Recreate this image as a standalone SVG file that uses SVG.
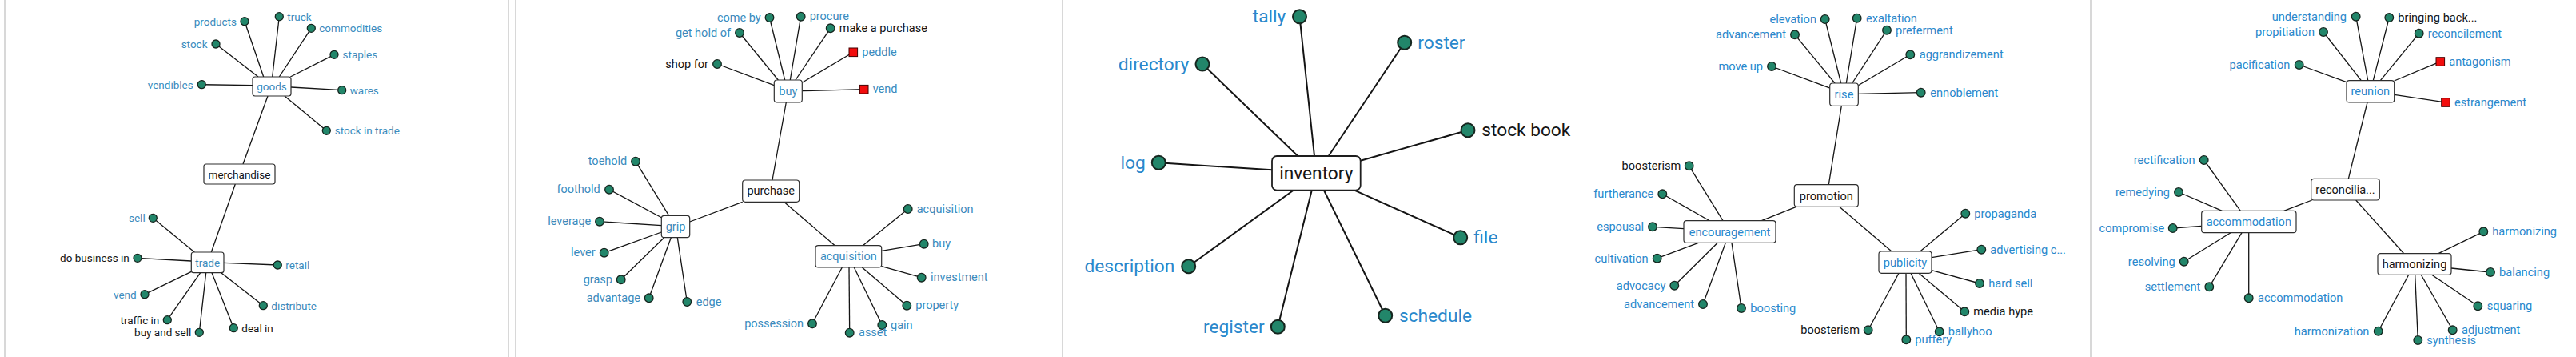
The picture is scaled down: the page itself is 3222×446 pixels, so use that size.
<svg xmlns="http://www.w3.org/2000/svg" width="3222" height="446" viewBox="0 0 3222 446">
<style>
.bg{fill:#fff}
.sep{stroke:#d8d8d8;stroke-width:2}
.e{stroke:#141414;stroke-width:1.3;fill:none}
.e3{stroke:#141414;stroke-width:2;fill:none}
.box{fill:#fff;stroke:#2e2e2e;stroke-width:1.2}
.box3{fill:#fff;stroke:#1e1e1e;stroke-width:1.8}
.d{fill:#22866a;stroke:#16261f;stroke-width:1.3}
.d3{fill:#22866a;stroke:#16261f;stroke-width:2}
.sq{fill:#f20d0d;stroke:#400;stroke-width:1}
text{font-family:Roboto,"Liberation Sans",sans-serif;dominant-baseline:central}
.m{text-anchor:middle}
.r{text-anchor:end}
.ba{fill:#3b8bbd}
.bb{fill:#2a88cc}
.k{fill:#151515}
.f1{font-size:13.5px}
.f2{font-size:14.5px}
.f3{font-size:22.7px}
.f4{font-size:14.6px}
</style>
<rect class="bg" x="0" y="0" width="3222" height="446"/>
<g id="separators">
<line class="sep" x1="6" y1="0" x2="6" y2="446"/>
<line class="sep" x1="636" y1="0" x2="636" y2="446"/>
<line class="sep" x1="645" y1="0" x2="645" y2="446"/>
<line class="sep" x1="1329" y1="0" x2="1329" y2="446"/>
<line class="sep" x1="2615" y1="0" x2="2615" y2="446"/>
</g>
<g id="connectors">
<!-- panel 1 -->
<line class="e" x1="306" y1="26.7" x2="329.7" y2="96"/>
<line class="e" x1="270" y1="55" x2="323" y2="96"/>
<line class="e" x1="252.3" y1="105.7" x2="316" y2="106.7"/>
<line class="e" x1="349.3" y1="20.7" x2="340.7" y2="96"/>
<line class="e" x1="389.3" y1="35.3" x2="349.3" y2="96"/>
<line class="e" x1="418" y1="68.3" x2="363.3" y2="96"/>
<line class="e" x1="427.7" y1="112.7" x2="364" y2="109"/>
<line class="e" x1="408.3" y1="163.3" x2="356" y2="120"/>
<line class="e" x1="335" y1="120" x2="304" y2="205"/>
<line class="e" x1="294.3" y1="230" x2="264.3" y2="315"/>
<line class="e" x1="191.3" y1="272.3" x2="243.3" y2="315"/>
<line class="e" x1="172" y1="322.3" x2="239.3" y2="326"/>
<line class="e" x1="181" y1="367.7" x2="239.3" y2="339.3"/>
<line class="e" x1="209.3" y1="399.7" x2="250.7" y2="340.7"/>
<line class="e" x1="249.3" y1="415.3" x2="257.7" y2="340.7"/>
<line class="e" x1="292.3" y1="409.7" x2="265" y2="340.7"/>
<line class="e" x1="329.3" y1="381.7" x2="276.7" y2="340.7"/>
<line class="e" x1="347.3" y1="331" x2="280" y2="328.3"/>
<!-- panel 2 -->
<line class="e" x1="962.5" y1="22" x2="981.7" y2="100"/>
<line class="e" x1="925" y1="41" x2="973.3" y2="100"/>
<line class="e" x1="897" y1="80" x2="968.3" y2="106.7"/>
<line class="e" x1="1001.7" y1="20.7" x2="988.3" y2="100"/>
<line class="e" x1="1038.7" y1="35.3" x2="995" y2="100"/>
<line class="e" x1="1067.3" y1="65.3" x2="1003.3" y2="103.3"/>
<line class="e" x1="1080.7" y1="111.7" x2="1003.3" y2="113.7"/>
<line class="e" x1="983.3" y1="128" x2="966" y2="225"/>
<line class="e" x1="928.7" y1="252.3" x2="862.7" y2="277"/>
<line class="e" x1="980.7" y1="252.3" x2="1044.3" y2="306.7"/>
<line class="e" x1="795" y1="201.7" x2="836.7" y2="269.3"/>
<line class="e" x1="762" y1="236.7" x2="827.3" y2="271.7"/>
<line class="e" x1="750" y1="276.7" x2="827.3" y2="281.7"/>
<line class="e" x1="755.7" y1="315.7" x2="827.3" y2="290"/>
<line class="e" x1="776.7" y1="349.3" x2="830.7" y2="296.7"/>
<line class="e" x1="811.7" y1="372.3" x2="839.3" y2="296.7"/>
<line class="e" x1="859.3" y1="377" x2="847.3" y2="296.7"/>
<line class="e" x1="1135.7" y1="261" x2="1079.3" y2="306.7"/>
<line class="e" x1="1155.7" y1="304.7" x2="1102.7" y2="313.3"/>
<line class="e" x1="1152.7" y1="346.7" x2="1102.7" y2="332.7"/>
<line class="e" x1="1134.3" y1="381.7" x2="1078.3" y2="334"/>
<line class="e" x1="1103.3" y1="406" x2="1068.3" y2="334"/>
<line class="e" x1="1062.7" y1="415.7" x2="1062" y2="334"/>
<line class="e" x1="1016" y1="404.3" x2="1053.3" y2="334"/>
<!-- panel 3 -->
<line class="e3" x1="1625.5" y1="20.7" x2="1644" y2="195"/>
<line class="e3" x1="1504" y1="80" x2="1623.3" y2="195"/>
<line class="e3" x1="1449.3" y1="203.3" x2="1591" y2="212.3"/>
<line class="e3" x1="1486.7" y1="332.7" x2="1617.7" y2="237.7"/>
<line class="e3" x1="1598.3" y1="408.3" x2="1640.7" y2="237.7"/>
<line class="e3" x1="1756.7" y1="53.3" x2="1661.7" y2="195"/>
<line class="e3" x1="1836" y1="162.7" x2="1701.7" y2="200.7"/>
<line class="e3" x1="1826.7" y1="296.7" x2="1694" y2="237.7"/>
<line class="e3" x1="1732.7" y1="394.3" x2="1656" y2="237.7"/>
<!-- panel 4 -->
<line class="e" x1="2282.7" y1="24" x2="2302.7" y2="104"/>
<line class="e" x1="2245" y1="43.3" x2="2295" y2="104"/>
<line class="e" x1="2216" y1="83" x2="2288.7" y2="110"/>
<line class="e" x1="2322.7" y1="22.7" x2="2309.3" y2="104"/>
<line class="e" x1="2360" y1="37.7" x2="2316.7" y2="104"/>
<line class="e" x1="2389.3" y1="68.3" x2="2324.3" y2="106.7"/>
<line class="e" x1="2402.7" y1="115.7" x2="2324.3" y2="117.3"/>
<line class="e" x1="2303.3" y1="132.3" x2="2287.3" y2="230.7"/>
<line class="e" x1="2246.7" y1="258.3" x2="2203.3" y2="275.7"/>
<line class="e" x1="2300.7" y1="258.3" x2="2366" y2="314"/>
<line class="e" x1="2112.7" y1="207.3" x2="2155" y2="275.7"/>
<line class="e" x1="2079.3" y1="242.3" x2="2138.3" y2="275.7"/>
<line class="e" x1="2067" y1="283.3" x2="2106" y2="285.7"/>
<line class="e" x1="2072.7" y1="322.7" x2="2124.3" y2="303.3"/>
<line class="e" x1="2094.3" y1="356.7" x2="2148.3" y2="303.3"/>
<line class="e" x1="2130" y1="380" x2="2158.3" y2="303.3"/>
<line class="e" x1="2178" y1="385" x2="2166" y2="303.3"/>
<line class="e" x1="2458.3" y1="266.7" x2="2401.7" y2="314"/>
<line class="e" x1="2478.3" y1="311.7" x2="2416" y2="321.7"/>
<line class="e" x1="2476" y1="354" x2="2416" y2="337.7"/>
<line class="e" x1="2457.3" y1="389.3" x2="2400" y2="341.3"/>
<line class="e" x1="2425.7" y1="414.3" x2="2390" y2="341.3"/>
<line class="e" x1="2384.3" y1="424.3" x2="2384" y2="341.3"/>
<line class="e" x1="2336.7" y1="412.3" x2="2375" y2="341.3"/>
<!-- panel 5 -->
<line class="e" x1="2946.7" y1="20.7" x2="2961.7" y2="100.7"/>
<line class="e" x1="2906" y1="40" x2="2953.3" y2="100.7"/>
<line class="e" x1="2875.7" y1="81" x2="2935" y2="102.7"/>
<line class="e" x1="2988.3" y1="22" x2="2968.3" y2="100.7"/>
<line class="e" x1="3025.7" y1="41.7" x2="2977.3" y2="100.7"/>
<line class="e" x1="3052.3" y1="77" x2="2994.7" y2="101"/>
<line class="e" x1="3059" y1="128" x2="2994.7" y2="118.3"/>
<line class="e" x1="2961" y1="128" x2="2937.3" y2="223.3"/>
<line class="e" x1="2891.7" y1="250" x2="2856.7" y2="263.3"/>
<line class="e" x1="2946.7" y1="250" x2="3006.7" y2="316.7"/>
<line class="e" x1="2756.7" y1="200" x2="2802.3" y2="263.3"/>
<line class="e" x1="2725" y1="240" x2="2779.3" y2="263.3"/>
<line class="e" x1="2717.7" y1="285" x2="2753.7" y2="282.3"/>
<line class="e" x1="2731.7" y1="326.7" x2="2790" y2="290.7"/>
<line class="e" x1="2763.3" y1="358.3" x2="2804" y2="290.7"/>
<line class="e" x1="2812.7" y1="372.3" x2="2812.7" y2="290.7"/>
<line class="e" x1="2974.7" y1="413.7" x2="3012.7" y2="343.3"/>
<line class="e" x1="3106.3" y1="289.3" x2="3050" y2="316.7"/>
<line class="e" x1="3115" y1="340" x2="3066" y2="335"/>
<line class="e" x1="3099.3" y1="382.3" x2="3041.7" y2="343.3"/>
<line class="e" x1="3067.7" y1="412.3" x2="3028.3" y2="343.3"/>
<line class="e" x1="3024.3" y1="425" x2="3020.7" y2="343.3"/>
</g>
<!-- ===== Panel 1 ===== -->
<g id="n-goods"><rect class="box" x="316" y="96" width="48" height="24" rx="3"/><text class="m ba f1" x="340" y="108">goods</text></g>
<g id="n-merchandise"><rect class="box" x="255" y="205" width="89" height="25" rx="3"/><text class="m k f1" x="299.5" y="217.5">merchandise</text></g>
<g id="n-trade"><rect class="box" x="239.3" y="315" width="40.7" height="25.7" rx="3"/><text class="m ba f1" x="259.7" y="327.8">trade</text></g>
<g id="l-products"><circle class="d" cx="306" cy="26.7" r="5"/><text class="r ba f1" x="296" y="26.7">products</text></g>
<g id="l-stock"><circle class="d" cx="270" cy="55" r="5"/><text class="r ba f1" x="259.5" y="55">stock</text></g>
<g id="l-vendibles"><circle class="d" cx="252.3" cy="105.7" r="5"/><text class="r ba f1" x="241.7" y="105.7">vendibles</text></g>
<g id="l-truck"><circle class="d" cx="349.3" cy="20.7" r="5"/><text class="ba f1" x="359.3" y="20.7">truck</text></g>
<g id="l-commodities"><circle class="d" cx="389.3" cy="35.3" r="5"/><text class="ba f1" x="399.3" y="35.3">commodities</text></g>
<g id="l-staples"><circle class="d" cx="418" cy="68.3" r="5"/><text class="ba f1" x="428.5" y="68.3">staples</text></g>
<g id="l-wares"><circle class="d" cx="427.7" cy="112.7" r="5"/><text class="ba f1" x="437.7" y="112.7">wares</text></g>
<g id="l-stock-in-trade"><circle class="d" cx="408.3" cy="163.3" r="5"/><text class="ba f1" x="418.7" y="163.3">stock in trade</text></g>
<g id="l-sell"><circle class="d" cx="191.3" cy="272.3" r="5"/><text class="r ba f1" x="181.7" y="272.3">sell</text></g>
<g id="l-do-business-in"><circle class="d" cx="172" cy="322.3" r="5"/><text class="r k f1" x="161.7" y="322.3">do business in</text></g>
<g id="l-vend1"><circle class="d" cx="181" cy="367.7" r="5"/><text class="r ba f1" x="170.7" y="367.7">vend</text></g>
<g id="l-traffic-in"><circle class="d" cx="209.3" cy="399.7" r="5"/><text class="r k f1" x="199.3" y="399.7">traffic in</text></g>
<g id="l-buy-and-sell"><circle class="d" cx="249.3" cy="415.3" r="5"/><text class="r k f1" x="239.3" y="415.3">buy and sell</text></g>
<g id="l-deal-in"><circle class="d" cx="292.3" cy="409.7" r="5"/><text class="k f1" x="302.3" y="409.7">deal in</text></g>
<g id="l-distribute"><circle class="d" cx="329.3" cy="381.7" r="5"/><text class="ba f1" x="339.3" y="381.7">distribute</text></g>
<g id="l-retail"><circle class="d" cx="347.3" cy="331" r="5"/><text class="ba f1" x="357.3" y="331">retail</text></g>
<!-- ===== Panel 2 ===== -->
<g id="n-buy"><rect class="box" x="968.3" y="100" width="35" height="28" rx="3.5"/><text class="m ba f2" x="985.8" y="114">buy</text></g>
<g id="n-purchase"><rect class="box" x="928.7" y="225" width="71" height="27.3" rx="3.5"/><text class="m k f2" x="964.2" y="238.7">purchase</text></g>
<g id="n-grip"><rect class="box" x="827.3" y="269.3" width="35.4" height="27.4" rx="3.5"/><text class="m ba f2" x="845" y="283">grip</text></g>
<g id="n-acquisition"><rect class="box" x="1020" y="306.7" width="82.7" height="27.3" rx="3.5"/><text class="m ba f2" x="1061.3" y="320.3">acquisition</text></g>
<g id="l-come-by"><circle class="d" cx="962.5" cy="22" r="5.3"/><text class="r ba f2" x="951.7" y="22">come by</text></g>
<g id="l-get-hold-of"><circle class="d" cx="925" cy="41" r="5.3"/><text class="r ba f2" x="914" y="41">get hold of</text></g>
<g id="l-shop-for"><circle class="d" cx="897" cy="80" r="5.3"/><text class="r k f2" x="886" y="80">shop for</text></g>
<g id="l-procure"><circle class="d" cx="1001.7" cy="20.7" r="5.3"/><text class="ba f2" x="1012.7" y="20.7">procure</text></g>
<g id="l-make-a-purchase"><circle class="d" cx="1038.7" cy="35.3" r="5.3"/><text class="k f2" x="1049.7" y="35.3">make a purchase</text></g>
<g id="l-peddle"><rect class="sq" x="1062" y="60" width="10.6" height="10.6"/><text class="ba f2" x="1078.3" y="65.3">peddle</text></g>
<g id="l-vend2"><rect class="sq" x="1075.4" y="106.4" width="10.6" height="10.6"/><text class="ba f2" x="1091.7" y="111.7">vend</text></g>
<g id="l-toehold"><circle class="d" cx="795" cy="201.7" r="5.3"/><text class="r ba f2" x="784.3" y="201.7">toehold</text></g>
<g id="l-foothold"><circle class="d" cx="762" cy="236.7" r="5.3"/><text class="r ba f2" x="750.7" y="236.7">foothold</text></g>
<g id="l-leverage"><circle class="d" cx="750" cy="276.7" r="5.3"/><text class="r ba f2" x="739.3" y="276.7">leverage</text></g>
<g id="l-lever"><circle class="d" cx="755.7" cy="315.7" r="5.3"/><text class="r ba f2" x="744.7" y="315.7">lever</text></g>
<g id="l-grasp"><circle class="d" cx="776.7" cy="349.3" r="5.3"/><text class="r ba f2" x="766" y="349.3">grasp</text></g>
<g id="l-advantage"><circle class="d" cx="811.7" cy="372.3" r="5.3"/><text class="r ba f2" x="801" y="372.3">advantage</text></g>
<g id="l-edge"><circle class="d" cx="859.3" cy="377" r="5.3"/><text class="ba f2" x="870.7" y="377">edge</text></g>
<g id="l-acquisition"><circle class="d" cx="1135.7" cy="261" r="5.3"/><text class="ba f2" x="1146.7" y="261">acquisition</text></g>
<g id="l-buy"><circle class="d" cx="1155.7" cy="304.7" r="5.3"/><text class="ba f2" x="1166" y="304.7">buy</text></g>
<g id="l-investment"><circle class="d" cx="1152.7" cy="346.7" r="5.3"/><text class="ba f2" x="1164" y="346.7">investment</text></g>
<g id="l-property"><circle class="d" cx="1134.3" cy="381.7" r="5.3"/><text class="ba f2" x="1145.3" y="381.7">property</text></g>
<g id="l-gain"><circle class="d" cx="1103.3" cy="406" r="5.3"/><text class="ba f2" x="1114" y="406">gain</text></g>
<g id="l-asset"><circle class="d" cx="1062.7" cy="415.7" r="5.3"/><text class="ba f2" x="1074" y="415.7">asset</text></g>
<g id="l-possession"><circle class="d" cx="1016" cy="404.3" r="5.3"/><text class="r ba f2" x="1005" y="404.3">possession</text></g>
<!-- ===== Panel 3 ===== -->
<g id="n-inventory"><rect class="box3" x="1591" y="195" width="110.7" height="42.7" rx="6"/><text class="m k f3" x="1646.3" y="216.3">inventory</text></g>
<g id="l-tally"><circle class="d3" cx="1625.5" cy="20.7" r="8.5"/><text class="r bb f3" x="1608.3" y="20.7">tally</text></g>
<g id="l-directory"><circle class="d3" cx="1504" cy="80" r="8.5"/><text class="r bb f3" x="1487.3" y="80">directory</text></g>
<g id="l-log"><circle class="d3" cx="1449.3" cy="203.3" r="8.5"/><text class="r bb f3" x="1432.7" y="203.3">log</text></g>
<g id="l-description"><circle class="d3" cx="1486.7" cy="332.7" r="8.5"/><text class="r bb f3" x="1469.3" y="332.7">description</text></g>
<g id="l-register"><circle class="d3" cx="1598.3" cy="408.3" r="8.5"/><text class="r bb f3" x="1581.7" y="408.3">register</text></g>
<g id="l-roster"><circle class="d3" cx="1756.7" cy="53.3" r="8.5"/><text class="bb f3" x="1773.3" y="53.3">roster</text></g>
<g id="l-stock-book"><circle class="d3" cx="1836" cy="162.7" r="8.5"/><text class="k f3" x="1853.3" y="162.7">stock book</text></g>
<g id="l-file"><circle class="d3" cx="1826.7" cy="296.7" r="8.5"/><text class="bb f3" x="1843.3" y="296.7">file</text></g>
<g id="l-schedule"><circle class="d3" cx="1732.7" cy="394.3" r="8.5"/><text class="bb f3" x="1750" y="394.3">schedule</text></g>
<!-- ===== Panel 4 ===== -->
<g id="n-rise"><rect class="box" x="2288.7" y="104" width="35.6" height="28.3" rx="3.5"/><text class="m bb f4" x="2306.5" y="118.2">rise</text></g>
<g id="n-promotion"><rect class="box" x="2244.3" y="230.7" width="80" height="27.6" rx="3.5"/><text class="m k f4" x="2284.3" y="244.5">promotion</text></g>
<g id="n-encouragement"><rect class="box" x="2106" y="275.7" width="115" height="27.6" rx="3.5"/><text class="m bb f4" x="2163.5" y="289.5">encouragement</text></g>
<g id="n-publicity"><rect class="box" x="2350" y="314" width="66" height="27.3" rx="3.5"/><text class="m bb f4" x="2383" y="327.7">publicity</text></g>
<g id="l-elevation"><circle class="d" cx="2282.7" cy="24" r="5.3"/><text class="r bb f4" x="2272" y="24">elevation</text></g>
<g id="l-advancement1"><circle class="d" cx="2245" cy="43.3" r="5.3"/><text class="r bb f4" x="2234" y="43.3">advancement</text></g>
<g id="l-move-up"><circle class="d" cx="2216" cy="83" r="5.3"/><text class="r bb f4" x="2205" y="83">move up</text></g>
<g id="l-exaltation"><circle class="d" cx="2322.7" cy="22.7" r="5.3"/><text class="bb f4" x="2334" y="22.7">exaltation</text></g>
<g id="l-preferment"><circle class="d" cx="2360" cy="37.7" r="5.3"/><text class="bb f4" x="2371" y="37.7">preferment</text></g>
<g id="l-aggrandizement"><circle class="d" cx="2389.3" cy="68.3" r="5.3"/><text class="bb f4" x="2400.7" y="68.3">aggrandizement</text></g>
<g id="l-ennoblement"><circle class="d" cx="2402.7" cy="115.7" r="5.3"/><text class="bb f4" x="2414.3" y="115.7">ennoblement</text></g>
<g id="l-boosterism1"><circle class="d" cx="2112.7" cy="207.3" r="5.3"/><text class="r k f4" x="2102.3" y="207.3">boosterism</text></g>
<g id="l-furtherance"><circle class="d" cx="2079.3" cy="242.3" r="5.3"/><text class="r bb f4" x="2068.3" y="242.3">furtherance</text></g>
<g id="l-espousal"><circle class="d" cx="2067" cy="283.3" r="5.3"/><text class="r bb f4" x="2056" y="283.3">espousal</text></g>
<g id="l-cultivation"><circle class="d" cx="2072.7" cy="322.7" r="5.3"/><text class="r bb f4" x="2061.7" y="322.7">cultivation</text></g>
<g id="l-advocacy"><circle class="d" cx="2094.3" cy="356.7" r="5.3"/><text class="r bb f4" x="2083.3" y="356.7">advocacy</text></g>
<g id="l-advancement2"><circle class="d" cx="2130" cy="380" r="5.3"/><text class="r bb f4" x="2119" y="380">advancement</text></g>
<g id="l-boosting"><circle class="d" cx="2178" cy="385" r="5.3"/><text class="bb f4" x="2189.3" y="385">boosting</text></g>
<g id="l-propaganda"><circle class="d" cx="2458.3" cy="266.7" r="5.3"/><text class="bb f4" x="2469.3" y="266.7">propaganda</text></g>
<g id="l-advertising"><circle class="d" cx="2478.3" cy="311.7" r="5.3"/><text class="bb f4" x="2489.3" y="311.7">advertising c...</text></g>
<g id="l-hard-sell"><circle class="d" cx="2476" cy="354" r="5.3"/><text class="bb f4" x="2487.3" y="354">hard sell</text></g>
<g id="l-media-hype"><circle class="d" cx="2457.3" cy="389.3" r="5.3"/><text class="k f4" x="2468.3" y="389.3">media hype</text></g>
<g id="l-ballyhoo"><circle class="d" cx="2425.7" cy="414.3" r="5.3"/><text class="bb f4" x="2436.7" y="414.3">ballyhoo</text></g>
<g id="l-puffery"><circle class="d" cx="2384.3" cy="424.3" r="5.3"/><text class="bb f4" x="2395.3" y="424.3">puffery</text></g>
<g id="l-boosterism2"><circle class="d" cx="2336.7" cy="412.3" r="5.3"/><text class="r k f4" x="2326" y="412.3">boosterism</text></g>
<!-- ===== Panel 5 ===== -->
<g id="n-reunion"><rect class="box" x="2935" y="100.7" width="59.7" height="27.3" rx="3.5"/><text class="m bb f4" x="2964.8" y="114.3">reunion</text></g>
<g id="n-reconcilia"><rect class="box" x="2890.7" y="223.3" width="85.6" height="26.7" rx="3.5"/><text class="m k f4" x="2933.5" y="236.7">reconcilia...</text></g>
<g id="n-accommodation"><rect class="box" x="2753.7" y="263.3" width="118.3" height="27.4" rx="3.5"/><text class="m bb f4" x="2812.8" y="277">accommodation</text></g>
<g id="n-harmonizing"><rect class="box" x="2974" y="316.7" width="92" height="26.6" rx="3.5"/><text class="m k f4" x="3020" y="330">harmonizing</text></g>
<g id="l-understanding"><circle class="d" cx="2946.7" cy="20.7" r="5.3"/><text class="r bb f4" x="2935" y="20.7">understanding</text></g>
<g id="l-propitiation"><circle class="d" cx="2906" cy="40" r="5.3"/><text class="r bb f4" x="2895" y="40">propitiation</text></g>
<g id="l-pacification"><circle class="d" cx="2875.7" cy="81" r="5.3"/><text class="r bb f4" x="2864.3" y="81">pacification</text></g>
<g id="l-bringing-back"><circle class="d" cx="2988.3" cy="22" r="5.3"/><text class="k f4" x="2999.3" y="22">bringing back...</text></g>
<g id="l-reconcilement"><circle class="d" cx="3025.7" cy="41.7" r="5.3"/><text class="bb f4" x="3036.7" y="41.7">reconcilement</text></g>
<g id="l-antagonism"><rect class="sq" x="3047" y="71.7" width="10.6" height="10.6"/><text class="bb f4" x="3063.3" y="77">antagonism</text></g>
<g id="l-estrangement"><rect class="sq" x="3053.7" y="122.7" width="10.6" height="10.6"/><text class="bb f4" x="3070" y="128">estrangement</text></g>
<g id="l-rectification"><circle class="d" cx="2756.7" cy="200" r="5.3"/><text class="r bb f4" x="2745.7" y="200">rectification</text></g>
<g id="l-remedying"><circle class="d" cx="2725" cy="240" r="5.3"/><text class="r bb f4" x="2714" y="240">remedying</text></g>
<g id="l-compromise"><circle class="d" cx="2717.7" cy="285" r="5.3"/><text class="r bb f4" x="2707.3" y="285">compromise</text></g>
<g id="l-resolving"><circle class="d" cx="2731.7" cy="326.7" r="5.3"/><text class="r bb f4" x="2720.7" y="326.7">resolving</text></g>
<g id="l-settlement"><circle class="d" cx="2763.3" cy="358.3" r="5.3"/><text class="r bb f4" x="2752.3" y="358.3">settlement</text></g>
<g id="l-accommodation"><circle class="d" cx="2812.7" cy="372.3" r="5.3"/><text class="bb f4" x="2824" y="372.3">accommodation</text></g>
<g id="l-harmonization"><circle class="d" cx="2974.7" cy="413.7" r="5.3"/><text class="r bb f4" x="2963.3" y="413.7">harmonization</text></g>
<g id="l-harmonizing"><circle class="d" cx="3106.3" cy="289.3" r="5.3"/><text class="bb f4" x="3117.3" y="289.3">harmonizing</text></g>
<g id="l-balancing"><circle class="d" cx="3115" cy="340" r="5.3"/><text class="bb f4" x="3126" y="340">balancing</text></g>
<g id="l-squaring"><circle class="d" cx="3099.3" cy="382.3" r="5.3"/><text class="bb f4" x="3110.7" y="382.3">squaring</text></g>
<g id="l-adjustment"><circle class="d" cx="3067.7" cy="412.3" r="5.3"/><text class="bb f4" x="3079" y="412.3">adjustment</text></g>
<g id="l-synthesis"><circle class="d" cx="3024.3" cy="425" r="5.3"/><text class="bb f4" x="3035.3" y="425">synthesis</text></g>
</svg>
